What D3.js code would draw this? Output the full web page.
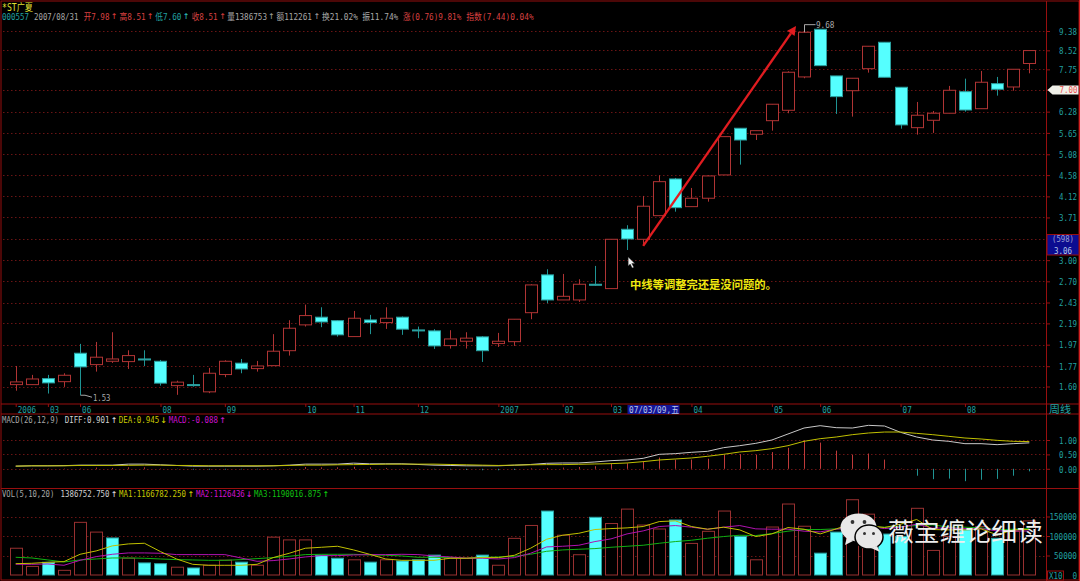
<!DOCTYPE html>
<html><head><meta charset="utf-8">
<script src="https://cdn.jsdelivr.net/npm/d3@7"></script>
<style>html,body{margin:0;padding:0;background:#000;overflow:hidden}svg{display:block}</style>
</head><body><svg id="c" width="1080" height="581"></svg>
<script>
const opens=[1.615,1.615,1.664,1.639,1.888,1.784,1.814,1.811,1.835,1.814,1.607,1.615,1.558,1.698,1.797,1.749,1.775,1.912,2.174,2.259,2.220,2.051,2.228,2.199,2.259,2.120,2.110,1.961,2.004,2.048,1.981,2.000,2.310,2.788,2.461,2.461,2.661,2.604,3.498,3.328,3.743,4.493,3.915,4.082,4.584,5.782,5.612,6.004,6.323,7.464,9.461,7.501,6.970,7.777,8.869,7.090,5.799,6.016,6.231,6.936,6.373,7.219,7.100,7.98];
const closes=[1.637,1.661,1.629,1.692,1.764,1.851,1.835,1.866,1.829,1.627,1.635,1.607,1.709,1.814,1.746,1.772,1.907,2.138,2.277,2.206,2.069,2.247,2.199,2.247,2.128,2.113,1.958,2.027,2.035,1.912,2.004,2.236,2.652,2.461,2.506,2.661,2.656,3.328,3.333,3.923,4.433,3.895,4.082,4.561,5.546,5.454,5.713,6.516,7.640,9.322,7.895,6.767,7.415,8.695,7.452,5.879,6.169,6.231,6.984,6.332,7.269,7.019,7.754,8.51];
const highs=[1.772,1.695,1.695,1.709,1.978,1.997,2.096,1.916,1.916,1.826,1.647,1.695,1.755,1.823,1.835,1.817,2.076,2.225,2.405,2.373,2.225,2.330,2.285,2.373,2.266,2.156,2.128,2.117,2.096,2.055,2.089,2.236,2.661,2.867,2.801,2.728,2.915,3.328,3.569,4.129,4.577,4.516,4.296,4.577,5.546,5.782,5.713,6.516,7.677,9.68,9.461,7.501,7.415,8.695,8.869,7.090,6.590,6.301,7.137,7.400,7.689,7.464,7.754,8.51];
const lows=[1.567,1.615,1.545,1.597,1.532,1.723,1.799,1.746,1.772,1.607,1.535,1.599,1.548,1.676,1.709,1.723,1.772,1.866,2.156,2.149,2.051,2.051,2.076,2.131,2.069,2.035,1.929,1.932,1.932,1.808,1.948,1.958,2.236,2.421,2.461,2.437,2.643,2.604,3.155,3.219,3.743,3.818,3.915,4.013,4.584,4.825,5.454,5.713,6.231,7.415,7.895,6.209,6.126,7.625,7.452,5.770,5.601,5.649,6.231,6.280,6.373,6.801,6.970,7.60];
const priceTicks=[9.38,8.52,7.75,7.00,6.28,5.65,5.08,4.58,4.12,3.71,3.34,3.00,2.70,2.43,2.19,1.97,1.77,1.60];
const dateIdx=[0,2,4,9,13,18,21,25,30,34,37,42,47,50,55,59];
const dateLabels=["2006","03","06","08","09","10","11","12","2007","02","03","04","05","06","07","08"];
const diff=[.092,.104,.104,.11,.127,.127,.127,.162,.162,.139,.116,.092,.092,.092,.092,.092,.104,.127,.162,.162,.162,.197,.173,.173,.173,.15,.127,.116,.104,.104,.104,.127,.15,.191,.202,.202,.237,.283,.306,.364,.503,.526,.572,.607,.734,.803,.884,1.0,1.208,1.416,1.497,1.428,1.416,1.509,1.486,1.266,1.104,1.0,.954,.873,.873,.838,.873,.901];
const dea=[.092,.104,.104,.104,.116,.116,.116,.121,.127,.127,.116,.116,.104,.104,.104,.104,.104,.116,.127,.127,.139,.145,.15,.162,.162,.162,.162,.15,.139,.127,.116,.127,.139,.145,.145,.156,.168,.179,.202,.249,.306,.341,.376,.434,.503,.584,.63,.699,.803,.954,1.046,1.104,1.185,1.243,1.277,1.277,1.231,1.185,1.127,1.069,1.035,.988,.954,.945];
const macd=[0,.01,.01,.01,.01,.04,.03,.05,.05,.01,-.01,-.03,-.03,-.03,-.02,-.02,0,.01,.06,.05,.05,.07,.05,.03,.01,-.01,-.02,-.03,-.04,-.05,-.05,-.04,.02,.03,.04,.06,.09,.17,.19,.26,.39,.32,.32,.35,.49,.51,.49,.58,.73,.99,.91,.63,.49,.53,.32,.01,-.24,-.36,-.34,-.43,-.38,-.35,-.24,-.088];
const macdTicks=[1,.5,0];
const vols=[68600,22000,32600,12000,135000,110000,95000,43000,31000,29000,20000,18000,25000,38000,33000,25000,97000,90000,90000,51000,43000,39000,33000,39000,36000,39000,51000,43000,43000,51000,25000,94000,127000,164000,102000,52000,148000,132000,169000,128000,118000,141000,81000,112000,164000,99000,39000,123000,182000,125000,56000,110000,193000,156000,105000,99000,171000,63000,99000,116000,124000,94000,112000,138675];
const volDownIdx=[2,6,8,9,11,14,19,20,22,24,25,26,29,33,36,41,45,50,51,54,55,59,61];
const ma1=[29.1,30,32.6,34.3,53.1,61.7,74.6,79.7,81.4,60,41.1,27.4,24.9,24.9,24.9,27.4,44.6,55.7,68.6,71.1,73.7,64.3,53.1,41.1,37.7,37.7,37.7,42.9,42.9,44.6,44.6,50.6,68.6,91.7,102,107,116.6,119,120.8,124.3,137,138.8,124.3,117.4,122.6,115.7,98.6,105.4,121.7,117.4,105.4,118.3,132,126.8,121.7,130.3,142.3,116.6,115.7,115.7,118.3,102.8,115.7,116.7];
const ma2=[27.4,27.4,28.3,24.9,37.7,47.1,53.1,56.6,56.6,55.7,52.3,52.3,52.3,52.3,43.7,35.1,36.9,41.1,46.3,49.7,49.7,51.4,52.3,52.3,53.1,52.3,48.8,46.3,42.9,42.9,41.1,44.6,55.7,72,73.7,76.3,85.7,92.6,105.4,113.1,124.3,126.8,122.6,117.4,122.6,126.8,118.3,117.4,117.4,112.3,110.6,117.4,122.6,124.3,119.1,122.6,130.3,120,120.8,119.1,119.1,113.1,113.1,112.6];
const ma3=[45.4,43.7,38.6,33.4,38.6,41.1,43.7,43.7,42.9,41.1,39.4,38.6,37.7,37.7,39.4,42,44.6,48,52.3,53.1,53.1,53.1,51.4,50.6,48.8,45.4,45.4,44.6,42.9,45.4,46.3,48,53.1,60.8,64.3,66,67.7,71.1,73.7,76.3,81.4,85.7,89.1,94.3,98.6,102,101.1,106.3,112.3,116.6,116.6,118.3,120,122.6,122.6,124.3,126.8,128.6,122.6,122.6,120.8,115.7,117.4,119];
const volTicks=[150000,100000,50000,0];
const arrowFrom=[39,3.22], arrowTo=[48.5,9.62];
const noteText="中线等调整完还是没问题的。";
const logoText="薇宝缠论细读";

const RED="#b03434",TEAL="#22a0a0",WICK="#1f9494",CYAN="#55ffff",FRAME="#980f0f",GRID="#6a1414",GREY="#a8a8a8";
const MONO="'DejaVu Sans Mono','Noto Sans CJK SC',monospace";
const svg=d3.select("#c");
svg.append("rect").attr("width",1080).attr("height",581).attr("fill","#000");
const x=d3.scaleLinear().domain([0,63]).range([15.7,1029.3]);
const y=d3.scaleLog().domain([1.6,9.38]).range([386.5,31]);
const ym=d3.scaleLinear().domain([0,1]).range([468.8,440]);
const yv=d3.scaleLinear().domain([0,150000]).range([575,516.5]);
const cx=i=>Math.round(x(i))+.5;

// squeeze a text horizontally so it occupies `w` px, starting at `left`
function squeeze(node,left,w){
  const n=node.getComputedTextLength();
  d3.select(node).attr("text-anchor","start").attr("x",0)
    .attr("transform",`translate(${left},${+node.getAttribute("data-y")||0}) scale(${w/n},1)`);
}
function grid(scale,ticks){svg.append("g").selectAll("line").data(ticks).join("line")
  .attr("x1",3).attr("x2",1046).attr("y1",d=>Math.round(scale(d))+.5).attr("y2",d=>Math.round(scale(d))+.5)
  .attr("stroke",GRID).attr("stroke-dasharray","1.5,2.5");}
grid(y,priceTicks);grid(ym,macdTicks);grid(yv,volTicks.filter(d=>d>0));

function rightAxis(scale,ticks,fmt,cw,skip){
  const g=svg.append("g").attr("transform","translate(1047,0)")
   .call(d3.axisRight(scale).tickValues(ticks).tickFormat(fmt).tickSize(3).tickPadding(0));
  g.select(".domain").remove();
  g.selectAll(".tick line").attr("stroke",FRAME);
  if(skip)g.selectAll(".tick text").filter(skip).remove();
  g.selectAll(".tick text").attr("fill",TEAL).attr("font-family",MONO).attr("font-size",9.5).attr("dy",".34em")
    .each(function(){const c=[...this.textContent].length;squeeze(this,30-c*cw,c*cw);});
  return g;
}
rightAxis(y,priceTicks,d3.format(".2f"),4.5,d=>d===7||d===3.34);
rightAxis(ym,macdTicks,d3.format(".2f"),4.5);
rightAxis(yv,volTicks,d3.format("d"),4.6);

// candles
const cand=d3.range(64).map(i=>({i,o:opens[i],c:closes[i],h:highs[i],l:lows[i],up:closes[i]>=opens[i]}));
const cg=svg.append("g");
cg.selectAll("line").data(cand).join("line")
  .attr("x1",d=>cx(d.i)).attr("x2",d=>cx(d.i)).attr("y1",d=>y(d.h)).attr("y2",d=>y(d.l))
  .attr("stroke",d=>d.up?RED:WICK);
cg.selectAll("rect").data(cand).join("rect")
  .attr("x",d=>cx(d.i)-6).attr("width",12)
  .attr("y",d=>Math.min(y(d.o),y(d.c))).attr("height",d=>Math.max(1,Math.abs(y(d.o)-y(d.c))))
  .attr("fill",d=>d.up?"#000":CYAN).attr("stroke",d=>d.up?RED:"#2aa0a0");

// leaders for extreme labels
const lo=svg.append("g").attr("fill","none").attr("stroke",GREY);
const lowI=lows.indexOf(d3.min(lows)),hiI=highs.indexOf(d3.max(highs));
lo.append("path").attr("d",`M${cx(lowI)},${y(lows[lowI])}h4.5l7,2`);
lo.append("path").attr("d",`M${cx(hiI)},${y(closes[hiI])}V${y(highs[hiI])}h11`);
function txt(t,xa,xb,yy,col,size=9.5){const e=svg.append("text").text(t).attr("y",0).attr("dy",".36em")
  .attr("fill",col).attr("font-family",MONO).attr("font-size",size);
  if(xb!=null){e.attr("data-y",yy);squeeze(e.node(),xa,xb-xa);}
  else e.attr("x",xa).attr("y",yy);
  return e;}
txt(d3.format(".2f")(lows[lowI]),cx(lowI)+12.5,cx(lowI)+30,397.7,GREY);
txt(d3.format(".2f")(highs[hiI]),cx(hiI)+11.5,cx(hiI)+30,25,GREY);

// MACD
svg.append("g").selectAll("line").data(macd).join("line")
  .attr("x1",(d,i)=>cx(i)).attr("x2",(d,i)=>cx(i)).attr("y1",ym(0)).attr("y2",d=>ym(d))
  .attr("stroke",d=>d>=0?"#c03a3a":WICK);
const lm=d3.line().x((d,i)=>x(i)).y(d=>ym(d));
svg.append("path").attr("d",lm(diff)).attr("fill","none").attr("stroke","#c8c8c8");
svg.append("path").attr("d",lm(dea)).attr("fill","none").attr("stroke","#c0c000");

// VOL
const vg=svg.append("g");
const isDown=i=>volDownIdx.includes(i);
vg.selectAll("rect").data(vols).join("rect")
  .attr("x",(d,i)=>cx(i)-6).attr("width",12).attr("y",d=>yv(d)).attr("height",d=>yv(0)-yv(d))
  .attr("fill",(d,i)=>isDown(i)?CYAN:"#000")
  .attr("stroke",(d,i)=>isDown(i)?"#2aa0a0":"#983030");
const lv=d3.line().x((d,i)=>x(i)).y(d=>yv(d*1000));
[[ma3,"#12b012"],[ma2,"#b012b0"],[ma1,"#c0c000"]].forEach(([a,c])=>svg.append("path").attr("d",lv(a)).attr("fill","none").attr("stroke",c));

// frame
const f=svg.append("g").attr("stroke",FRAME).attr("fill","none");
f.append("rect").attr("x",1).attr("y",1).attr("width",1078).attr("height",579);
[404,414,488.5].forEach(v=>f.append("line").attr("x1",1).attr("x2",1079).attr("y1",v).attr("y2",v));
f.append("line").attr("x1",1046.5).attr("x2",1046.5).attr("y1",1).attr("y2",581);
svg.append("line").attr("x1",1079.5).attr("x2",1079.5).attr("y1",0).attr("y2",581).attr("stroke","#d02020");

// date axis
const ax=svg.append("g").attr("transform","translate(0,404)")
  .call(d3.axisBottom(x).tickValues(dateIdx).tickFormat((d,k)=>dateLabels[k]).tickSize(3).tickPadding(0));
ax.select(".domain").remove();
ax.selectAll(".tick line").attr("stroke",FRAME);
ax.selectAll(".tick text").attr("fill",TEAL).attr("font-family",MONO).attr("font-size",9.5).attr("y",0).attr("dy",".36em")
  .attr("data-y",5.2).each(function(){squeeze(this,1.5,this.textContent.length*4.6);});
svg.append("rect").attr("x",627.5).attr("y",405).attr("width",52).attr("height",9).attr("fill","#141496");
txt("07/03/09,五",629,679,409.5,"#b8c8e8");
txt("周线",1049,1071,409.5,TEAL,10.5);

// right boxes
svg.append("rect").attr("x",1047).attr("y",234.5).attr("width",32).attr("height",20.5).attr("fill","#0c0c90").attr("stroke",FRAME);
txt("(598)",1052,1074,239,"#a0a0d0");
txt("3.06",1054,1072,250.5,"#b8c8e8");
svg.append("path").attr("d","M1047.5,90l5,-4.5h26v9h-26z").attr("fill","#f0f0e8");
txt("7.00",1059.5,1077.5,90,"#e85050");
svg.append("rect").attr("x",1047.5).attr("y",571).attr("width",16).attr("height",9).attr("fill","#000").attr("stroke",FRAME);
txt("X10",1049,1062.5,575.5,TEAL,9);

// headers
txt("*ST广夏",2,33,7,"#e0e030",10);
const rows=[
 [16.5,[["000557",2,29,TEAL],["2007/08/31",34,78.5,GREY],["开7.98",83.7,109.5,"#d84040"],["↑",114,null,"#e84040"],["高8.51",119.5,145.7,"#d84040"],["↑",150,null,"#e84040"],["低7.60",155.3,181.5,TEAL],["↑",186,null,"#30d0d0"],["收8.51",191.8,217.6,"#d84040"],["↑",222.5,null,"#e84040"],["量1386753",227.3,267,GREY],["↑",271.4,null,GREY],["额112261",276.5,312,GREY],["↑",316.8,null,GREY],["换21.02%",322,358,GREY],["振11.74%",362.3,398.4,GREY],["涨(0.76)9.81%",403,461.4,"#d84040"],["指数(7.44)0.04%",466.3,533.8,"#d84040"]]],
 [420,[["MACD(26,12,9)",2,59,GREY],["DIFF:0.901",64.7,109.5,"#d0d0d0"],["↑",114,null,"#f0f0f0"],["DEA:0.945",118.8,159.4,"#c8c800"],["↓",163.6,null,"#e0e000"],["MACD:-0.088",168.7,218,"#d010d0"],["↑",222.5,null,"#e020e0"]]],
 [494,[["VOL(5,10,20)",2,54.4,GREY],["1386752.750",60.6,109.5,"#d0d0d0"],["↑",114,null,"#f0f0f0"],["MA1:1166782.250",119,186,"#c8c800"],["↑",190.8,null,"#e0e000"],["MA2:1126436",196,244.8,"#d010d0"],["↓",249,null,"#e020e0"],["MA3:1190016.875",254,321.3,"#10c010"],["↑",325.8,null,"#10e010"]]]
];
rows.forEach(([yy,items])=>items.forEach(([t,a,b,c])=>{
  const e=txt(t,a,b,yy,c); if(b==null)e.attr("text-anchor","middle").attr("font-family","'DejaVu Sans'").attr("font-size",8);
}));

// arrow annotation
const A=[x(arrowFrom[0]),y(arrowFrom[1])],B=[x(arrowTo[0]),y(arrowTo[1])];
const ang=Math.atan2(B[1]-A[1],B[0]-A[0]);
const back=[B[0]-9*Math.cos(ang),B[1]-9*Math.sin(ang)];
svg.append("line").attr("x1",A[0]).attr("y1",A[1]).attr("x2",back[0]).attr("y2",back[1]).attr("stroke","#e01c20").attr("stroke-width",2.4);
svg.append("path").attr("d",d3.line()([B,[back[0]+4.5*Math.sin(ang),back[1]-4.5*Math.cos(ang)],[back[0]-4.5*Math.sin(ang),back[1]+4.5*Math.cos(ang)]])+"Z").attr("fill","#e01c20");

// cursor
svg.append("path").attr("transform","translate(628.2,257)").attr("d","M0,0V9l2,-2l2,4l1.6,-.8l-2,-3.7h3z").attr("fill","#f0f0f0").attr("stroke","#222").attr("stroke-width",.4);

// note
const note=svg.append("text").text(noteText).attr("dy",".36em").attr("fill","#f0e810").attr("data-y",285)
  .attr("font-family","'Noto Sans CJK SC'").attr("font-weight",700).attr("font-size",11.5);
squeeze(note.node(),630,147);

// watermark
const w=svg.append("g");
w.append("ellipse").attr("cx",858.5).attr("cy",527.5).attr("rx",18).attr("ry",14).attr("fill","#e8e8e8");
w.append("path").attr("d","M847,537l-2,8l8,-4z").attr("fill","#e8e8e8");
[852.5,864.5].forEach(v=>w.append("circle").attr("cx",v).attr("cy",522).attr("r",1.9).attr("fill","#333"));
w.append("ellipse").attr("cx",869).attr("cy",537).attr("rx",14).attr("ry",12).attr("fill","#e8e8e8").attr("stroke","#000").attr("stroke-width",1.5);
w.append("path").attr("d","M877,546l3,6l-9,-4z").attr("fill","#e8e8e8");
[864.5,873.5].forEach(v=>w.append("circle").attr("cx",v).attr("cy",533.5).attr("r",1.5).attr("fill","#333"));
const logo=w.append("text").text(logoText).attr("dy",".36em").attr("fill","#eeeeee").attr("data-y",532)
 .attr("font-family","'Noto Sans CJK SC'").attr("font-size",25.5);
squeeze(logo.node(),888,155);
</script></body></html>
